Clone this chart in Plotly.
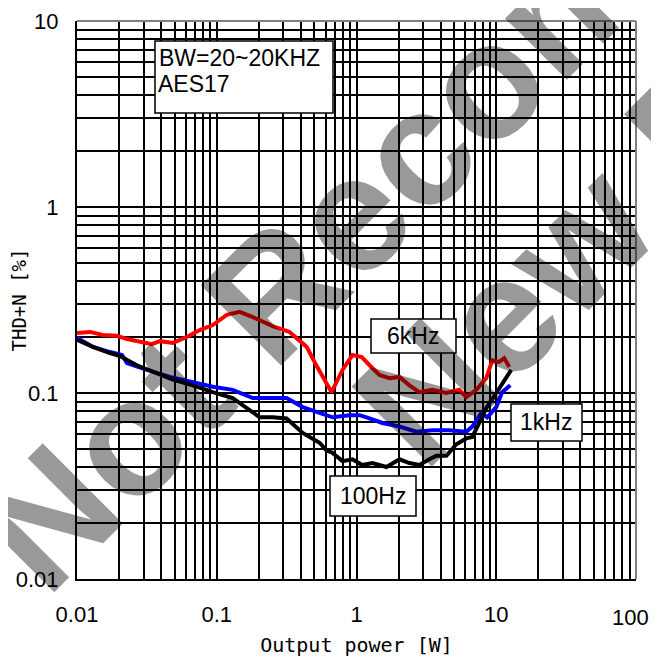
import plotly.graph_objects as go

# ---------------- data ----------------
power_6k = [0.01, 0.0124, 0.0153, 0.0193, 0.0228, 0.0282, 0.0343, 0.0392, 0.0485, 0.0611,
            0.0756, 0.0936, 0.118, 0.146, 0.181, 0.251, 0.332, 0.44, 0.518, 0.663,
            0.794, 0.936, 1.09, 1.24, 1.46, 1.72, 2.03, 2.39, 2.82, 3.49,
            4.4, 5.44, 6.11, 7.2, 8.48, 9.36, 10.5, 11.4, 12.4]
thd_6k = [0.210, 0.213, 0.205, 0.203, 0.195, 0.188, 0.183, 0.190, 0.186, 0.200,
          0.218, 0.232, 0.263, 0.273, 0.256, 0.229, 0.213, 0.177, 0.140, 0.101,
          0.133, 0.160, 0.156, 0.141, 0.125, 0.120, 0.122, 0.110, 0.101, 0.104,
          0.100, 0.104, 0.095, 0.104, 0.120, 0.150, 0.147, 0.154, 0.138]

power_1k = [0.01, 0.013, 0.0172, 0.021, 0.0228, 0.0316, 0.0462, 0.0674, 0.0936, 0.130,
            0.181, 0.251, 0.316, 0.412, 0.544, 0.674, 0.891, 1.05, 1.18, 1.53,
            2.03, 2.68, 3.49, 4.62, 6.11, 6.74, 7.81, 8.62, 10.0, 11.0, 12.6]
thd_1k = [0.198, 0.177, 0.166, 0.160, 0.145, 0.133, 0.122, 0.115, 0.108, 0.104,
          0.094, 0.094, 0.094, 0.084, 0.078, 0.074, 0.076, 0.076, 0.074, 0.069,
          0.066, 0.062, 0.063, 0.063, 0.062, 0.066, 0.078, 0.074, 0.084, 0.101, 0.110]

power_100 = [0.01, 0.013, 0.0172, 0.0203, 0.0268, 0.0392, 0.0485, 0.0674, 0.0936, 0.130,
             0.164, 0.203, 0.251, 0.316, 0.412, 0.544, 0.611, 0.663, 0.794, 0.936,
             1.10, 1.30, 1.64, 2.03, 2.39, 2.82, 3.32, 3.73, 4.4, 5.18,
             6.11, 6.74, 7.56, 8.48, 10.0, 12.8]
thd_100 = [0.193, 0.177, 0.164, 0.158, 0.141, 0.125, 0.118, 0.110, 0.101, 0.094,
           0.083, 0.074, 0.074, 0.073, 0.061, 0.054, 0.049, 0.048, 0.043, 0.044,
           0.041, 0.042, 0.040, 0.044, 0.042, 0.041, 0.044, 0.046, 0.046, 0.053,
           0.057, 0.058, 0.069, 0.083, 0.100, 0.133]

x_decades = [0.01, 0.1, 1, 10, 100]
x_labels = ["0.01", "0.1", "1", "10", "100"]
y_decades = [0.01, 0.1, 1, 10]
y_labels = ["0.01", "0.1", "1", "10"]
digits = [1, 2, 3, 4, 5, 6, 7, 8, 9]


def grid_vals(decades):
    vals = []
    for d in decades[:-1]:
        for k in digits:
            vals.append(round(d * k, 6))
    vals.append(decades[-1])
    return vals


x_grid = grid_vals(x_decades)
y_grid = grid_vals(y_decades)
# the last x label ("100") sits flush with the right edge in the reference,
# so it is written separately below
x_text = [x_labels[x_decades.index(v)] if (v in x_decades and v != x_decades[-1]) else ""
          for v in x_grid]
y_text = [y_labels[y_decades.index(v)] if v in y_decades else "" for v in y_grid]

fig = go.Figure()
series = [
    (power_6k, thd_6k, "#FF0000", "6kHz"),
    (power_1k, thd_1k, "#0000FF", "1kHz"),
    (power_100, thd_100, "#000000", "100Hz"),
]
for xs, ys, col, name in series:
    fig.add_trace(go.Scatter(x=xs, y=ys, mode="lines", name=name,
                             line=dict(color=col, width=4)))

tick_font = dict(family="Liberation Sans, Arial, sans-serif", size=22, color="black")

# the page body adds an 8px offset; the figure is sized so the plot area lands
# at x 77..636, y 21..579 in the browser window
fig.update_layout(
    width=651, height=649,
    margin=dict(l=69, r=23, t=13, b=78, pad=0, autoexpand=False),
    paper_bgcolor="white", plot_bgcolor="white",
    showlegend=False,
    xaxis=dict(type="log", range=[-2, 2], tickmode="array", tickvals=x_grid, ticktext=x_text,
               showgrid=True, gridcolor="black", gridwidth=2, automargin=False,
               showline=True, linecolor="black", linewidth=2, ticks="",
               tickfont=tick_font, ticklabelstandoff=15,
               title=dict(text="Output power [W]",
                          font=dict(family="DejaVu Sans Mono, monospace", size=20, color="black"),
                          standoff=15)),
    yaxis=dict(type="log", range=[-2, 1], tickmode="array", tickvals=y_grid, ticktext=y_text,
               showgrid=True, gridcolor="black", gridwidth=2, automargin=False,
               showline=True, linecolor="black", linewidth=2, ticks="",
               tickfont=tick_font, ticklabelstandoff=12,
               title=dict(text="THD+N [%]",
                          font=dict(family="DejaVu Sans Mono, monospace", size=19, color="black"),
                          standoff=2)),
)

# last x tick label, right-aligned to the window edge
fig.add_annotation(text=x_labels[-1], xref="paper", yref="paper", x=1, y=0,
                   xanchor="right", yanchor="top", xshift=15, yshift=-24,
                   showarrow=False, font=tick_font)

# frame on top/right (gray)
fig.add_shape(type="line", xref="paper", yref="paper", x0=0, x1=1, y0=1, y1=1,
              line=dict(color="#808080", width=2), layer="above")
fig.add_shape(type="line", xref="paper", yref="paper", x0=1, x1=1, y0=0, y1=1,
              line=dict(color="#808080", width=2), layer="above")


def px_to_paper(px, py):
    return (px - 77) / 559.0, (579 - py) / 558.0


# label boxes
boxes = [
    ((155, 41), (333, 113)),
    ((371, 319), (456, 353)),
    ((511, 404), (582, 441)),
    ((330, 476), (416, 516)),
]
for (ax0, ay0), (ax1, ay1) in boxes:
    x0, y1 = px_to_paper(ax0, ay0)
    x1, y0 = px_to_paper(ax1, ay1)
    fig.add_shape(type="rect", xref="paper", yref="paper", x0=x0, x1=x1, y0=y0, y1=y1,
                  line=dict(color="black", width=1.5), fillcolor="white", layer="above")

label_font = dict(family="Liberation Sans, Arial, sans-serif", size=23, color="black")
texts = [
    ("BW=20~20KHZ", 157, 58, "left"),
    ("AES17", 156, 84, "left"),
    ("6kHz", 413, 336, "center"),
    ("1kHz", 546, 422, "center"),
    ("100Hz", 373, 496, "center"),
]
for t, px, py, anchor in texts:
    xp, yp = px_to_paper(px, py)
    fig.add_annotation(text=t, xref="paper", yref="paper", x=xp, y=yp, xanchor=anchor,
                       yanchor="middle", showarrow=False, font=label_font)

# watermark
wm_font = dict(family="Liberation Sans, Arial, sans-serif", size=165, color="rgba(0,0,0,0.4)")
for t, px, py in [("Not Recommended", 538, 28), ("New Design", 714, 104)]:
    xp, yp = px_to_paper(px, py)
    fig.add_annotation(text="<b>" + t + "</b>", xref="paper", yref="paper", x=xp, y=yp,
                       xanchor="center", yanchor="middle", textangle=-45, showarrow=False,
                       font=wm_font)

fig.write_html("out.html")
